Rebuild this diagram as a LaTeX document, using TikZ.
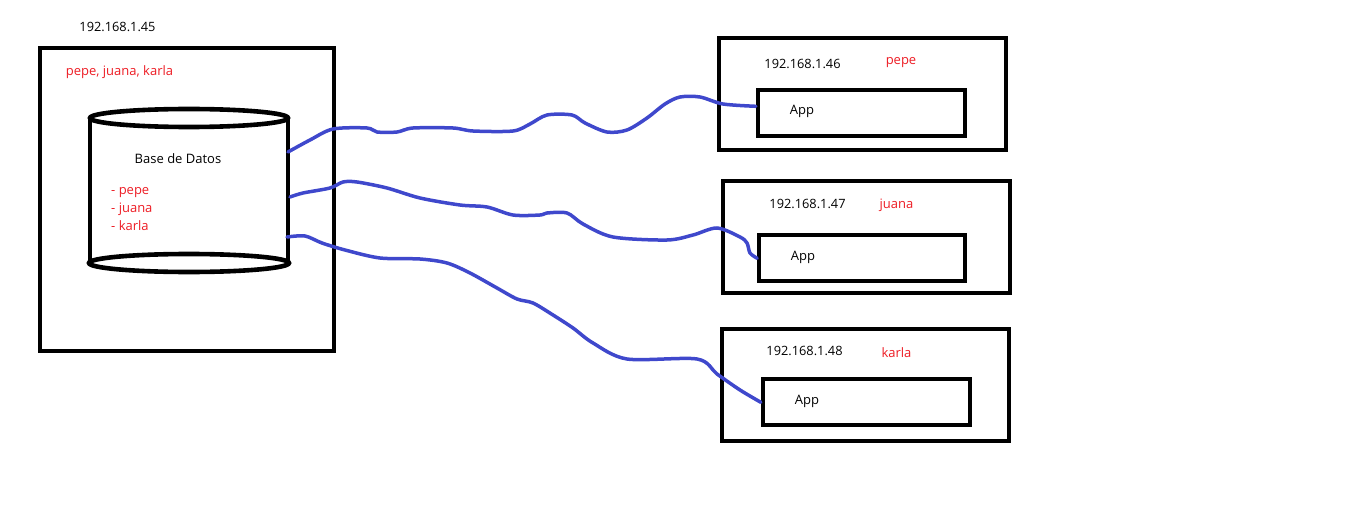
\documentclass[tikz,border=0pt]{standalone}
\usepackage{fontspec}
\setmainfont{Open Sans}
\definecolor{paintred}{RGB}{237,28,36}
\definecolor{paintblue}{RGB}{63,72,204}
\begin{document}
\begin{tikzpicture}[x=1pt,y=-1pt,
  box/.style={draw,line width=4.2pt,inner sep=0pt},
  wire/.style={paintblue,line width=3.5pt,line cap=round},
  ip/.style={font=\fontsize{12.8}{14}\selectfont,anchor=base,inner sep=0pt},
  txt/.style={font=\fontsize{13}{15}\selectfont,anchor=base,inner sep=0pt},
  usr/.style={txt,text=paintred}]
\useasboundingbox (0,0) rectangle (1360,532);
% servidor de base de datos
\node[box,minimum width=294pt,minimum height=303pt] (srv) at (187,199.5) {};
\node[ip] (ipsrv) at (117.5,31.7) {192.168.1.45};
\node[usr] (users) at (119.5,75.7) {pepe, juana, karla};
\draw[line width=4.6pt] (189,118) ellipse (99pt and 9pt);
\draw[line width=4.6pt] (90,118) -- (90,263);
\draw[line width=4.6pt] (288,118) -- (288,263);
\draw[line width=4.6pt] (189,263) ellipse (100pt and 9pt);
\node[txt] (dbname) at (178,164) {Base de Datos};
\node[usr,anchor=base west] (u1) at (111,194) {- pepe};
\node[usr,anchor=base west] (u2) at (111,212) {- juana};
\node[usr,anchor=base west] (u3) at (111,230) {- karla};
\coordinate (db1) at (288,152);
\coordinate (db2) at (290,197);
\coordinate (db3) at (287,237);
% clientes
\node[box,minimum width=287pt,minimum height=112.6pt] (pc1) at (862.8,94) {};
\node[box,minimum width=206.7pt,minimum height=46pt] (app1) at (861.3,113.3) {};
\node[ip] (ip1) at (802.5,68.3) {192.168.1.46};
\node[usr] (n1) at (901,65) {pepe};
\node[txt] (a1) at (802,115) {App};
\node[box,minimum width=286.7pt,minimum height=111.7pt] (pc2) at (866.3,237.2) {};
\node[box,minimum width=206pt,minimum height=46pt] (app2) at (862.3,258.3) {};
\node[ip] (ip2) at (807.5,208.3) {192.168.1.47};
\node[usr] (n2) at (896.5,208.3) {juana};
\node[txt] (a2) at (803,260) {App};
\node[box,minimum width=287pt,minimum height=112pt] (pc3) at (865.5,385.3) {};
\node[box,minimum width=206.7pt,minimum height=46pt] (app3) at (866.3,402.3) {};
\node[ip] (ip3) at (804.5,355.7) {192.168.1.48};
\node[usr] (n3) at (896.5,357.7) {karla};
\node[txt] (a3) at (807,404) {App};
\coordinate (end1) at ([yshift=7pt]app1.west);
% conexiones
\draw[wire] plot[smooth,tension=0.5] coordinates {(db1) (310,140) (333,129) (367,128) (377,132) (397,132) (413,128) (453,128) (473,131) (513,131) (530,124) (547,115) (572,115) (585,123) (607,132) (627,130) (647,118) (665,104) (680,97) (700,97) (723,104) (end1)};
\draw[wire] plot[smooth,tension=0.5] coordinates {(db2) (303,193) (330,188) (343,182) (357,182) (387,188) (420,198) (460,205) (487,207) (513,215) (540,215) (547,213) (567,213) (583,224) (613,237) (667,240) (693,235) (717,228) (740,237) (747,243) (750,253) (app2.west)};
\draw[wire] plot[smooth,tension=0.5] coordinates {(db3) (305,236) (322,243) (345,250) (380,258) (420,259) (447,263) (470,273) (497,288) (517,299) (533,303) (553,315) (573,328) (593,343) (627,359) (697,359) (717,374) (740,390) (app3.west)};
\end{tikzpicture}
\end{document}
